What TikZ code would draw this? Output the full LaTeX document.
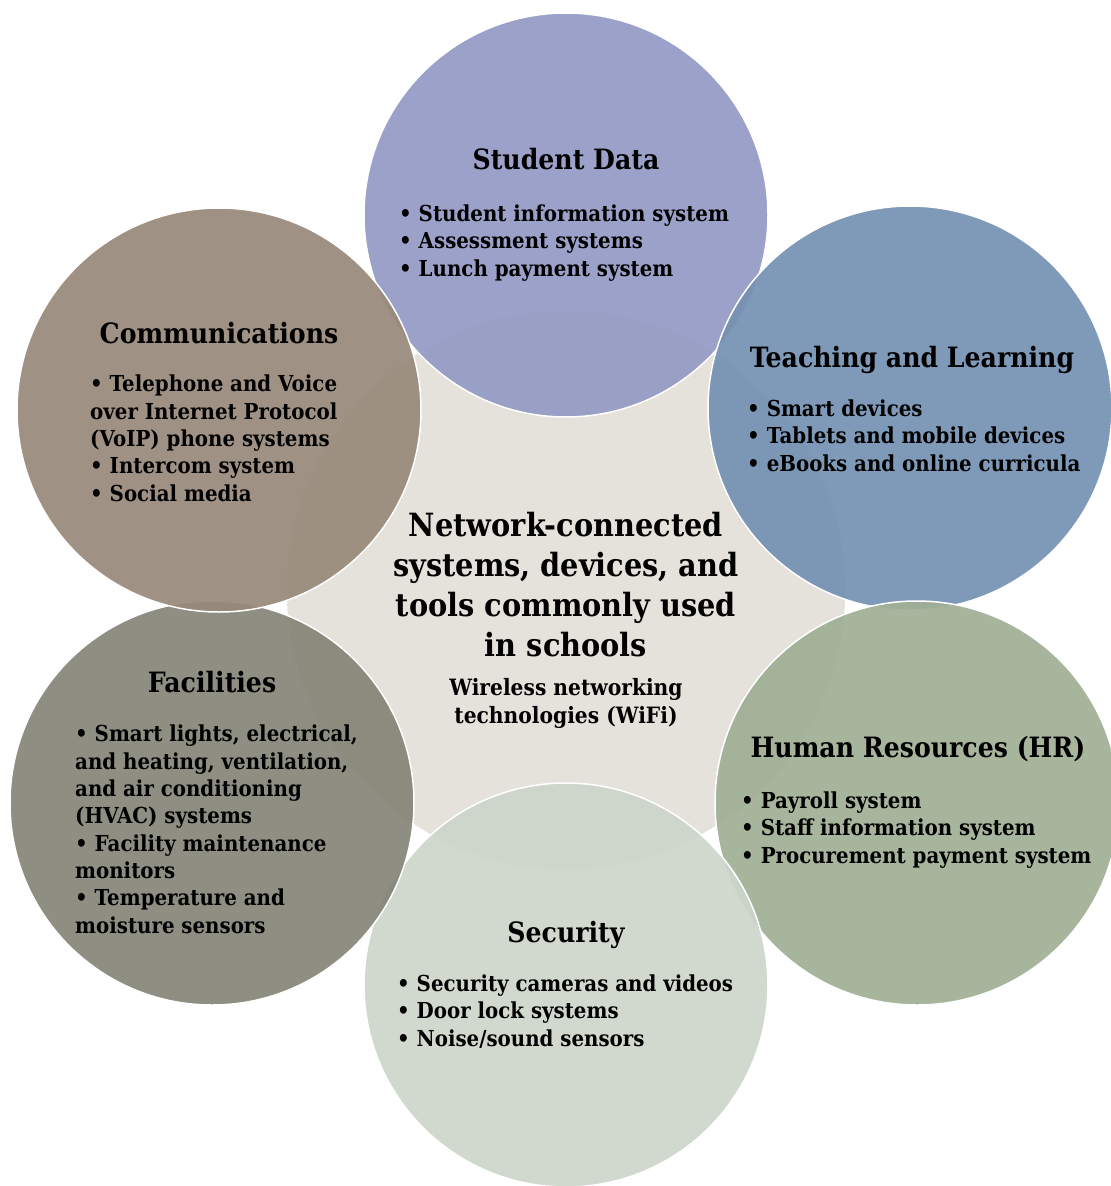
\documentclass[tikz,border=0pt]{standalone}
\usepackage{fontspec}
\setmainfont{DejaVu Serif}[FakeStretch=0.9]
\definecolor{cCenter}{HTML}{E5E2DB}
\definecolor{cSD}{HTML}{959AC5}
\definecolor{cTL}{HTML}{7592B3}
\definecolor{cHR}{HTML}{A0AF96}
\definecolor{cSec}{HTML}{CDD6CA}
\definecolor{cFac}{HTML}{858578}
\definecolor{cCom}{HTML}{988A7B}
\begin{document}
\begin{tikzpicture}[x=1pt,y=-1pt,
  bubble/.style={circle, minimum size=404pt, inner sep=0pt, draw=white, line width=1.5pt, fill opacity=0.93},
  hub/.style={circle, minimum size=560pt, inner sep=0pt, draw=white, line width=1.5pt, fill=cCenter},
  ttl/.style={font=\bfseries\fontsize{28}{40}\selectfont, align=center, inner sep=0pt, anchor=base},
  bigttl/.style={font=\bfseries\fontsize{32}{40}\selectfont, align=center, inner sep=0pt, anchor=base},
  lst/.style={font=\bfseries\fontsize{22}{27.3}\selectfont, align=left, inner sep=0pt, anchor=base west},
  sub/.style={font=\bfseries\fontsize{22.5}{27.5}\selectfont, align=center, inner sep=0pt, anchor=base},
]
\useasboundingbox (0,0) rectangle (1111,1186);
\node[hub] (hub) at (566,590) {};
\node[bubble, fill=cSD] (sd) at (566,215) {};
\node[bubble, fill=cTL] (tl) at (910,408) {};
\node[bubble, fill=cHR] (hr) at (917,803) {};
\node[bubble, fill=cSec] (sec) at (566,985) {};
\node[bubble, fill=cFac] (fac) at (212,803) {};
\node[bubble, fill=cCom] (com) at (219,410) {};

% center (base anchor = last line)
\node[bigttl] (hubt) at (566,656) {Network-connected\\systems, devices, and\\tools commonly used\\in schools};
\node[sub] (hubs) at (566,723) {Wireless networking\\technologies (WiFi)};

% Student Data
\node[ttl] (sdt) at (566,169) {Student Data};
\node[lst] (sdl) at (399,276) {• Student information system\\• Assessment systems\\• Lunch payment system};

% Teaching and Learning
\node[ttl] (tlt) at (912,367) {Teaching and Learning};
\node[lst] (tll) at (747,471) {• Smart devices\\• Tablets and mobile devices\\• eBooks and online curricula};

% Human Resources
\node[ttl] (hrt) at (918,757) {Human Resources (HR)};
\node[lst] (hrl) at (741,863) {• Payroll system\\• Staff information system\\• Procurement payment system};

% Security
\node[ttl] (sect) at (566,942) {Security};
\node[lst] (secl) at (397,1046) {• Security cameras and videos\\• Door lock systems\\• Noise/sound sensors};

% Facilities
\node[ttl] (fact) at (212,692) {Facilities};
\node[lst] (facl) at (75,933) {• Smart lights, electrical,\\and heating, ventilation,\\and air conditioning\\(HVAC) systems\\• Facility maintenance\\monitors\\• Temperature and\\moisture sensors};

% Communications
\node[ttl] (comt) at (219,343) {Communications};
\node[lst] (coml) at (90,501) {• Telephone and Voice\\over Internet Protocol\\(VoIP) phone systems\\• Intercom system\\• Social media};
\end{tikzpicture}
\end{document}
